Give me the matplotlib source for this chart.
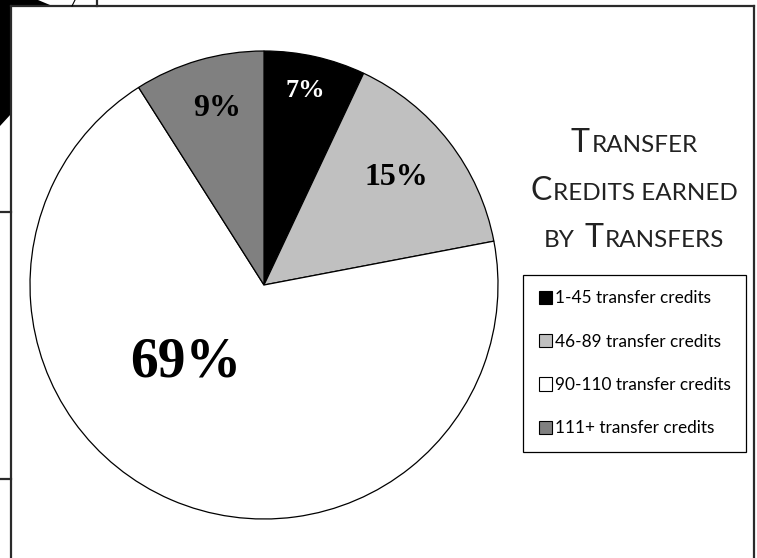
import numpy as np
import matplotlib
import matplotlib.pyplot as plt
import matplotlib.patches as mpatches
from matplotlib.lines import Line2D

matplotlib.use("Agg")

W_PX, H_PX = 757, 558

# data
CATEGORIES = ["1-45 transfer credits", "46-89 transfer credits",
              "90-110 transfer credits", "111+ transfer credits"]
SHARES     = [7, 15, 69, 9]
PCT_LABELS = ["7%", "15%", "69%", "9%"]
COLORS     = ["#000000", "#c0c0c0", "#ffffff", "#808080"]

# title in small caps: (text, big?) pieces, one list per line
TITLE_LINES = [
    [("T", True), ("RANSFER", False)],
    [("C", True), ("REDITS EARNED", False)],
    [("BY", False), (" ", None), ("T", True), ("RANSFERS", False)],
]

# label placement (radius, angle shift in deg) and style per wedge
LABEL_R     = [0.85, 0.73, 0.47, 0.78]
LABEL_SHIFT = [-0.7, -1.3, 22.0, 1.3]
LABEL_SIZE  = [19, 23, 40, 23]
LABEL_COLOR = ["white", "black", "black", "black"]

SANS  = ["Lato", "DejaVu Sans"]
SERIF = ["Liberation Serif", "DejaVu Serif"]


def px(x, y):
    """pixel (from top-left) -> figure fraction"""
    return x / W_PX, 1 - y / H_PX


fig = plt.figure(figsize=(W_PX / 100, H_PX / 100), dpi=100)
fig.patch.set_facecolor("white")

# ---- pie ----
cx, cy, r = 264, 285, 234
pad = 1.05
ax = fig.add_axes([(cx - r * pad) / W_PX, (H_PX - cy - r * pad) / H_PX,
                   2 * r * pad / W_PX, 2 * r * pad / H_PX])
wedges, _ = ax.pie(SHARES, colors=COLORS, startangle=90, counterclock=False,
                   wedgeprops=dict(edgecolor="black", linewidth=0.9))
ax.set_xlim(-pad, pad)
ax.set_ylim(-pad, pad)
ax.set_aspect("equal")
ax.axis("off")

for w, lab, rr, sh, fs, col in zip(wedges, PCT_LABELS, LABEL_R, LABEL_SHIFT,
                                   LABEL_SIZE, LABEL_COLOR):
    ang = np.deg2rad((w.theta1 + w.theta2) / 2 - sh)
    ax.text(rr * np.cos(ang), rr * np.sin(ang), lab, ha="center", va="center",
            fontsize=fs, fontweight="bold", family=SERIF, color=col)

# ---- title (manual small caps) ----
renderer = fig.canvas.get_renderer()
BIG, SMALL, SPACE = 23, 17.5, 8
title_cx = 635
for line, base_y in zip(TITLE_LINES, [152, 200, 247]):
    texts, widths = [], []
    for s, big in line:
        if big is None:
            texts.append(None)
            widths.append(SPACE)
            continue
        t = fig.text(0, 0, s, fontsize=BIG if big else SMALL, family=SANS,
                     color="#222222", va="baseline", ha="left")
        texts.append(t)
        widths.append(t.get_window_extent(renderer).width + 1.5)
    x = title_cx - sum(widths) / 2
    for t, wd in zip(texts, widths):
        if t is not None:
            t.set_position(px(x, base_y))
        x += wd

# ---- legend ----
handles = [mpatches.Patch(facecolor=c, edgecolor="black", linewidth=0.8)
           for c in COLORS]
leg = fig.legend(handles, CATEGORIES, loc="upper left",
                 bbox_to_anchor=px(523, 275), frameon=True, fancybox=False,
                 edgecolor="black", framealpha=1, handlelength=0.8,
                 handleheight=0.8, handletextpad=0.15, labelspacing=1.58,
                 borderpad=0.9, borderaxespad=0,
                 prop=dict(family=SANS, size=12.4))
leg.get_frame().set_linewidth(0.9)

# ---- page frame and crop remnants ----
frame_kw = dict(color="#2a2a2a", linewidth=1.6, transform=fig.transFigure)
for (x0, y0), (x1, y1) in [((11, 6), (754, 6)), ((11, 6), (11, 560)),
                           ((754, 6), (754, 560)), ((0, 212), (11, 212)),
                           ((0, 479), (11, 479)), ((97, 0), (97, 6))]:
    fig.add_artist(Line2D(*zip(px(x0, y0), px(x1, y1)), **frame_kw))
fig.add_artist(Line2D(*zip(px(72, 6), px(75, 0)), color="black",
                      linewidth=0.8, transform=fig.transFigure))
blob = [px(0, 0), px(38, 0), px(50, 5), px(11, 5), px(11, 114), px(0, 126)]
fig.add_artist(mpatches.Polygon(blob, closed=True, facecolor="black",
                                edgecolor="none", transform=fig.transFigure))

fig.savefig("out.png", dpi=100)
